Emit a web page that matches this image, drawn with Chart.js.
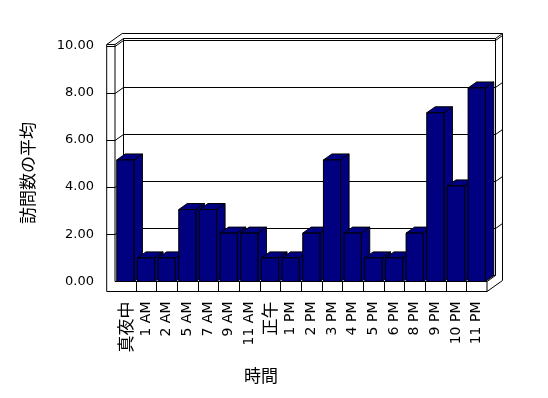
<!DOCTYPE html>
<html>
<head>
<meta charset="utf-8">
<script src="https://cdn.jsdelivr.net/npm/chart.js@4/dist/chart.umd.min.js"></script>
<style>
  html, body { margin: 0; padding: 0; background: #ffffff; }
  #wrap { width: 548px; height: 398px; }
</style>
</head>
<body>
<div id="wrap"><canvas id="c" width="548" height="398"></canvas></div>
<script>
const categories = ['真夜中','1 AM','2 AM','5 AM','7 AM','9 AM','11 AM','正午','1 PM','2 PM','3 PM','4 PM','5 PM','6 PM','8 PM','9 PM','10 PM','11 PM'];
const visits = [5.15, 1.0, 1.0, 3.05, 3.05, 2.05, 2.05, 1.0, 1.0, 2.05, 5.15, 2.05, 1.0, 1.0, 2.05, 7.15, 4.05, 8.2];
const yTickValues = [0, 2, 4, 6, 8, 10];
const yTickLabels = ['0.00', '2.00', '4.00', '6.00', '8.00', '10.00'];
const xTitle = '時間';
const yTitle = '訪問数の平均';

const BAR = '#000080';
const DX = 8.5, DY = -6;      // depth of floor / bars
const TX = 7, TY = -5;        // wall thickness (oblique)
const LW = 8.3;               // left wall front thickness
const FT = 10;                // floor thickness

const isCJK = s => /[^\x00-\x7F]/.test(String(s || ''));

const box3d = {
  id: 'box3d',
  beforeDatasetsDraw(chart) {
    const ctx = chart.ctx;
    const a = chart.chartArea;
    const ys = chart.scales.y, xs = chart.scales.x;
    const L = a.left, R = a.right, B = a.bottom, T = ys.getPixelForValue(10) - 1;
    ctx.save();
    ctx.lineWidth = 1;
    ctx.strokeStyle = '#000';
    ctx.fillStyle = '#fff';
    ctx.beginPath();
    ctx.moveTo(L - LW, B + FT);
    ctx.lineTo(R, B + FT);
    ctx.lineTo(R + DX + TX, B + FT + DY + TY);
    ctx.lineTo(R + DX + TX, T + DY + TY);
    ctx.lineTo(L - LW + DX + TX, T + DY + TY);
    ctx.lineTo(L - LW, T);
    ctx.closePath();
    ctx.fill();
    ctx.stroke();
    const line = (x1, y1, x2, y2) => { ctx.beginPath(); ctx.moveTo(x1, y1); ctx.lineTo(x2, y2); ctx.stroke(); };
    line(L, T, L, B);
    line(L - LW, T, L, T);
    line(L, T, L + DX, T + DY);
    ctx.beginPath();
    ctx.moveTo(L + DX, B + DY);
    ctx.lineTo(L + DX, T + DY);
    ctx.lineTo(R + DX, T + DY);
    ctx.lineTo(R + DX, B + DY);
    ctx.stroke();
    line(R + DX, T + DY, R + DX + TX, T + DY + TY);
    line(L, B, R, B);
    line(R, B, R + DX, B + DY);
    line(R, B, R, B + FT);
    line(L + DX, B + DY, R + DX, B + DY);
    const n = categories.length;
    for (let i = 1; i < n; i++) {
      const xb = (xs.getPixelForValue(i - 1) + xs.getPixelForValue(i)) / 2;
      line(Math.round(xb) + 0.5, B, Math.round(xb) + 0.5, B + FT);
    }
    yTickValues.forEach(v => {
      if (v === 0) return;
      const y = Math.round(ys.getPixelForValue(v)) + 0.5;
      line(L + DX, y + DY, R + DX, y + DY);
      line(L, y, L + DX, y + DY);
      line(L - LW, y, L, y);
      line(R + DX, y + DY, R + DX + TX, y + DY + TY);
    });
    ctx.restore();
  },
  afterDatasetsDraw(chart) {
    const ctx = chart.ctx;
    const meta = chart.getDatasetMeta(0);
    ctx.save();
    ctx.lineWidth = 1;
    ctx.strokeStyle = '#000';
    ctx.fillStyle = BAR;
    meta.data.forEach(el => {
      const p = el.getProps(['x', 'y', 'base', 'width'], true);
      const x0 = p.x - p.width / 2, x1 = p.x + p.width / 2;
      const y = p.y, b = p.base;
      ctx.beginPath();
      ctx.moveTo(x1, y); ctx.lineTo(x1 + DX, y + DY); ctx.lineTo(x1 + DX, b + DY); ctx.lineTo(x1, b);
      ctx.closePath(); ctx.fill(); ctx.stroke();
      ctx.beginPath();
      ctx.moveTo(x0, y); ctx.lineTo(x1, y); ctx.lineTo(x1 + DX, y + DY); ctx.lineTo(x0 + DX, y + DY);
      ctx.closePath(); ctx.fill(); ctx.stroke();
      ctx.beginPath();
      ctx.rect(x0, y, x1 - x0, b - y);
      ctx.fill(); ctx.stroke();
    });
    ctx.restore();
  },
  afterDraw(chart) {
    const ctx = chart.ctx;
    ctx.save();
    ctx.fillStyle = '#000';
    ctx.font = '17px "Noto Sans CJK JP"';
    ctx.textAlign = 'center';
    ctx.textBaseline = 'middle';
    ctx.fillText(xTitle, 261, 376);
    ctx.translate(28, 173);
    ctx.rotate(-Math.PI / 2);
    ctx.fillText(yTitle, 0, 0);
    ctx.restore();
  }
};

new Chart(document.getElementById('c'), {
  type: 'bar',
  data: {
    labels: categories,
    datasets: [{
      data: visits,
      backgroundColor: BAR,
      borderColor: '#000',
      borderWidth: 1,
      borderSkipped: false,
      barPercentage: 0.83,
      categoryPercentage: 1.0
    }]
  },
  options: {
    responsive: false,
    animation: false,
    events: [],
    layout: { padding: { top: 45.5, right: 61, bottom: 0, left: 0 } },
    plugins: { legend: { display: false }, tooltip: { enabled: false } },
    scales: {
      x: {
        offset: true,
        grid: { display: false, drawTicks: false },
        border: { display: false },
        ticks: {
          autoSkip: false,
          maxRotation: 90,
          minRotation: 90,
          padding: 20,
          color: '#000',
          font: (c) => isCJK(c.tick && c.tick.label) ? { family: 'Noto Sans CJK JP', size: 17 } : { family: 'DejaVu Sans', size: 14 }
        },
        afterFit: (s) => { s.height = 116.5; }
      },
      y: {
        min: 0,
        max: 10,
        grid: { display: false, drawTicks: false },
        border: { display: false },
        afterBuildTicks: (s) => { s.ticks = yTickValues.map(v => ({ value: v })); },
        ticks: {
          padding: 21,
          color: '#000',
          font: { family: 'DejaVu Sans', size: 13 },
          callback: (v) => { const i = yTickValues.indexOf(v); return i >= 0 ? yTickLabels[i] : ''; }
        },
        afterFit: (s) => { s.width = 115; }
      }
    }
  },
  plugins: [box3d]
});
</script>
</body>
</html>
